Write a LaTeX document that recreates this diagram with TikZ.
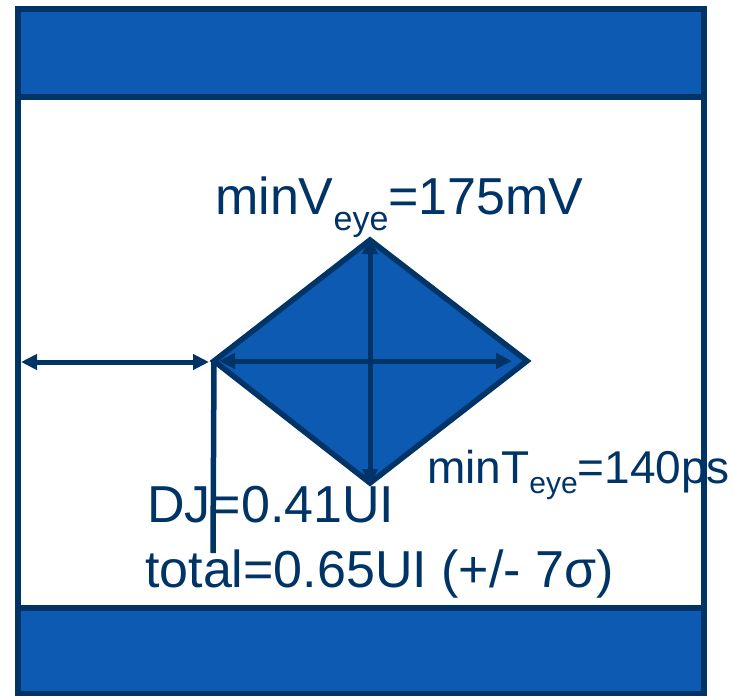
\documentclass[tikz,border=0pt]{standalone}
\usepackage{fontspec}
\setmainfont{Liberation Sans}
\usetikzlibrary{arrows.meta}

\definecolor{bordo}{RGB}{0,51,102}
\definecolor{riempi}{RGB}{12,90,178}

% pedice abbassato: {abbassamento}{dimensione}{testo}
\newcommand{\pedice}[3]{\raisebox{-#1}{\fontsize{#2}{#2}\selectfont #3}}

\tikzset{
  linea/.style={draw=bordo, line width=5.5bp},
  freccia/.style={draw=bordo, line width=5bp,
    {Triangle[length=16bp,width=15bp]}-{Triangle[length=16bp,width=15bp]}},
  etichetta/.style={text=bordo, inner sep=0pt, anchor=base west}
}

\begin{document}
\begin{tikzpicture}[x=1bp, y=-1bp]
        \useasboundingbox (0,0) rectangle (733,696);

        % bande sopra e sotto, cornice
        \filldraw[linea, fill=riempi] (18,9) rectangle (704,97);
        \filldraw[linea, fill=riempi] (18,608) rectangle (704,694);
        \draw[linea] (18,9) rectangle (704,694);

        % vertici del rombo
        \coordinate (sx) at (214,361);
        \coordinate (su) at (370,240);
        \coordinate (dx) at (527,361);
        \coordinate (giu) at (370,483);
        \filldraw[linea, fill=riempi, line join=miter] (sx) -- (su) -- (dx) -- (giu) -- cycle;

        % estremi delle frecce
        \coordinate (cornice) at (21,362);
        \coordinate (sxA) at (209,362);
        \coordinate (sxB) at (219,361);
        \coordinate (dxB) at (512,361);
        \coordinate (suB) at (370,238);
        \coordinate (giuB) at (370,485);
        \coordinate (piede) at (213,553);

        \draw[freccia] (cornice) -- (sxA);
        \draw[freccia] (sxB) -- (dxB);
        \draw[freccia] (suB) -- (giuB);
        \draw[linea] (sx) -- (piede);

        % etichette
        \node[etichetta, font=\fontsize{52bp}{60bp}\selectfont] (Veye) at (215,214)
        {minV\pedice{16bp}{34bp}{eye}=175mV};
        \node[etichetta, font=\fontsize{46bp}{54bp}\selectfont] (Teye) at (427,483)
        {minT\pedice{10bp}{30bp}{eye}=140ps};
        \node[etichetta, font=\fontsize{52bp}{60bp}\selectfont] (dj) at (147,522)
        {DJ=0.41UI};
        \node[etichetta, font=\fontsize{52bp}{60bp}\selectfont] (totale) at (145,587)
        {total=0.65UI (+/- 7σ)};
\end{tikzpicture}
\end{document}
